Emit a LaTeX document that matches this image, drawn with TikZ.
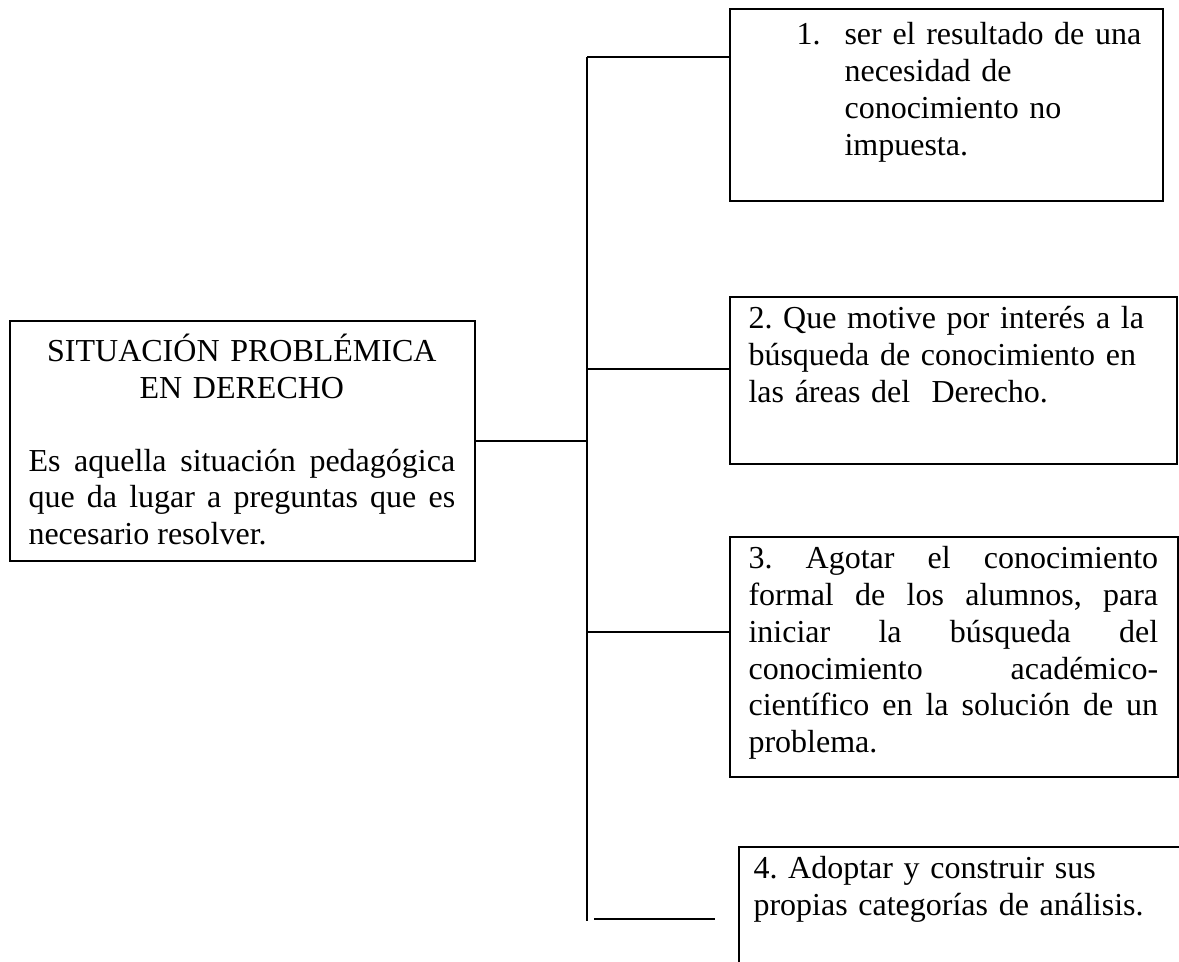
\documentclass[tikz,border=0pt]{standalone}
\usepackage{fontspec}
\setmainfont{Liberation Serif}
\usetikzlibrary{fit,calc}
\newcommand{\tstrut}{\rule{0pt}{10.7pt}}
\hyphenpenalty=10000
\frenchspacing
\begin{document}
\begin{tikzpicture}[x=0.375pt,y=-0.375pt,
  box/.style={draw, line width=0.75pt, inner sep=0pt},
  link/.style={line width=0.75pt},
  txt/.style={inner sep=0pt, anchor=north west, font=\fontsize{12}{13.8}\selectfont\frenchspacing}]
\useasboundingbox (0,0) rectangle (1179,961);
\clip (0,0) rectangle (1179,961);
% boxes
\coordinate (m1) at (10,321);  \coordinate (m2) at (475,561);
\node[box, fit=(m1)(m2)] (main) {};
\coordinate (a1) at (730,9);   \coordinate (a2) at (1163,201);
\node[box, fit=(a1)(a2)] (b1) {};
\coordinate (c1) at (730,297); \coordinate (c2) at (1177,464);
\node[box, fit=(c1)(c2)] (b2) {};
\coordinate (d1) at (730,537); \coordinate (d2) at (1178,777);
\node[box, fit=(d1)(d2)] (b3) {};
\coordinate (e1) at (739,847); \coordinate (e2) at (1200,1000);
\node[box, fit=(e1)(e2)] (b4) {};
% texts
\node[txt, text width=160pt, align=center] (mt) at ([shift={(19,12.6)}]main.north west)
  {\tstrut SITUACIÓN PROBLÉMICA\\EN DERECHO};
\node[txt, text width=160pt, align=justify] (mb) at ([shift={(19,122)}]main.north west)
  {\tstrut Es aquella situación pedagógica\linebreak que da lugar a preguntas que es\linebreak necesario resolver.};
\node[txt, text width=150pt, align=left] (t1) at ([shift={(19,7.6)}]b1.north west)
  {\tstrut\hspace*{18pt}\makebox[18pt][l]{1.}ser el resultado de una\\
   \hspace*{36pt}necesidad de\\
   \hspace*{36pt}conocimiento no\\
   \hspace*{36pt}impuesta.};
\node[txt, text width=153pt, align=left] (t2) at ([shift={(19,3.6)}]b2.north west)
  {\tstrut 2. Que motive por interés a la\\búsqueda de conocimiento en\\las áreas del\ \ Derecho.};
\node[txt, text width=153.6pt, align=justify] (t3) at ([shift={(19,3.6)}]b3.north west)
  {\tstrut 3. Agotar el conocimiento\linebreak formal de los alumnos, para\linebreak iniciar la búsqueda del\linebreak conocimiento académico-\linebreak científico en la solución de un\linebreak problema.};
\node[txt, text width=153pt, align=left] (t4) at ([shift={(15,3.6)}]b4.north west)
  {\tstrut 4. Adoptar y construir sus\\propias categorías de análisis.};
% connectors
\coordinate (vtop) at (587,57);
\coordinate (vbot) at (587,921);
\draw[link] (vtop) -- (vbot);
\draw[link] (vtop) -- (vtop -| b1.west);
\coordinate (j2) at (587,369);
\draw[link] (j2) -- (j2 -| b2.west);
\draw[link] (main.east) -- (main.east -| vtop);
\coordinate (j3) at (587,632);
\draw[link] (j3) -- (j3 -| b3.west);
\coordinate (s4a) at (594,919);
\coordinate (s4b) at (715,919);
\draw[link] (s4a) -- (s4b);
\end{tikzpicture}
\end{document}
